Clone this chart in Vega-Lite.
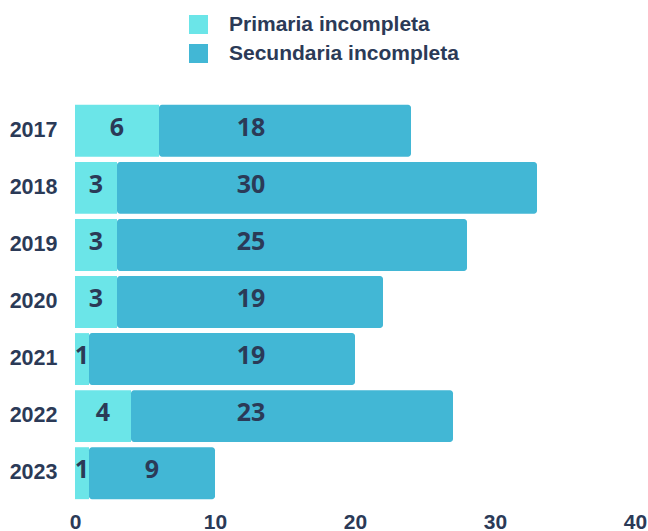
{
  "$schema": "https://vega.github.io/schema/vega-lite/v6.json",
  "autosize": {"type": "none"},
  "width": 560,
  "height": 400,
  "padding": {"left": 75, "top": 102, "right": 13, "bottom": 29},
  "background": "white",
  "config": {"view": {"stroke": null}, "font": "Liberation Sans"},
  "data": {"values": [
    {"year": "2017", "series": "Primaria incompleta", "value": 6},
    {"year": "2017", "series": "Secundaria incompleta", "value": 18},
    {"year": "2018", "series": "Primaria incompleta", "value": 3},
    {"year": "2018", "series": "Secundaria incompleta", "value": 30},
    {"year": "2019", "series": "Primaria incompleta", "value": 3},
    {"year": "2019", "series": "Secundaria incompleta", "value": 25},
    {"year": "2020", "series": "Primaria incompleta", "value": 3},
    {"year": "2020", "series": "Secundaria incompleta", "value": 19},
    {"year": "2021", "series": "Primaria incompleta", "value": 1},
    {"year": "2021", "series": "Secundaria incompleta", "value": 19},
    {"year": "2022", "series": "Primaria incompleta", "value": 4},
    {"year": "2022", "series": "Secundaria incompleta", "value": 23},
    {"year": "2023", "series": "Primaria incompleta", "value": 1},
    {"year": "2023", "series": "Secundaria incompleta", "value": 9}
  ]},
  "encoding": {
    "y": {"field": "year", "type": "nominal", "sort": "ascending",
      "scale": {"paddingInner": 0.09, "paddingOuter": 0.05},
      "axis": {"title": null, "domain": false, "ticks": false, "labelPadding": 18, "labelFont": "Liberation Sans", "labelFontWeight": "bold", "labelFontSize": 21.5, "labelColor": "#2b3a57"}}
  },
  "layer": [
    {
      "transform": [
        {"stack": "value", "groupby": ["year"], "sort": [{"field": "series", "order": "ascending"}], "as": ["x0", "x1"]},
        {"filter": "datum.series == 'Primaria incompleta'"}
      ],
      "mark": {"type": "bar"},
      "encoding": {
        "x": {"field": "x0", "type": "quantitative", "scale": {"domain": [0, 40], "nice": false},
          "axis": {"title": null, "values": [0, 10, 20, 30, 40], "grid": false, "domain": false, "ticks": false, "labelFlush": false, "labelPadding": 9, "labelFont": "Liberation Sans", "labelFontWeight": "bold", "labelFontSize": 21, "labelColor": "#2b3a57"}},
        "x2": {"field": "x1"},
        "color": {"field": "series", "type": "nominal",
          "scale": {"domain": ["Primaria incompleta", "Secundaria incompleta"], "range": ["#6be5e8", "#42b7d5"]},
          "legend": {"title": null, "orient": "none", "legendX": 113, "legendY": -88, "direction": "vertical", "symbolType": "square", "symbolSize": 361, "symbolStrokeWidth": 0, "labelLimit": 0, "labelFont": "Liberation Sans", "labelFontWeight": "bold", "labelFontSize": 21, "labelColor": "#2b3a57", "labelOffset": 20, "rowPadding": 7}}
      }
    },
    {
      "transform": [
        {"stack": "value", "groupby": ["year"], "sort": [{"field": "series", "order": "ascending"}], "as": ["x0", "x1"]},
        {"filter": "datum.series == 'Secundaria incompleta'"}
      ],
      "mark": {"type": "bar", "cornerRadiusEnd": 3},
      "encoding": {
        "x": {"field": "x0", "type": "quantitative"},
        "x2": {"field": "x1"},
        "color": {"field": "series", "type": "nominal"}
      }
    },
    {
      "mark": {"type": "text", "font": "Open Sans", "fontWeight": "bold", "fontSize": 25, "color": "#2b3a57", "dy": -3},
      "encoding": {
        "x": {"field": "value", "type": "quantitative", "stack": "zero", "bandPosition": 0.5},
        "detail": {"field": "series", "type": "nominal"},
        "order": {"field": "series", "sort": "ascending"},
        "text": {"condition": {"test": "datum.series == 'Primaria incompleta' || datum.value < 12", "field": "value", "type": "quantitative"}, "value": ""}
      }
    },
    {
      "transform": [{"filter": "datum.series == 'Secundaria incompleta' && datum.value >= 12"}],
      "mark": {"type": "text", "font": "Open Sans", "fontWeight": "bold", "fontSize": 25, "color": "#2b3a57", "dy": -3},
      "encoding": {
        "x": {"datum": 12.57, "type": "quantitative"},
        "text": {"field": "value", "type": "quantitative"}
      }
    }
  ]
}
